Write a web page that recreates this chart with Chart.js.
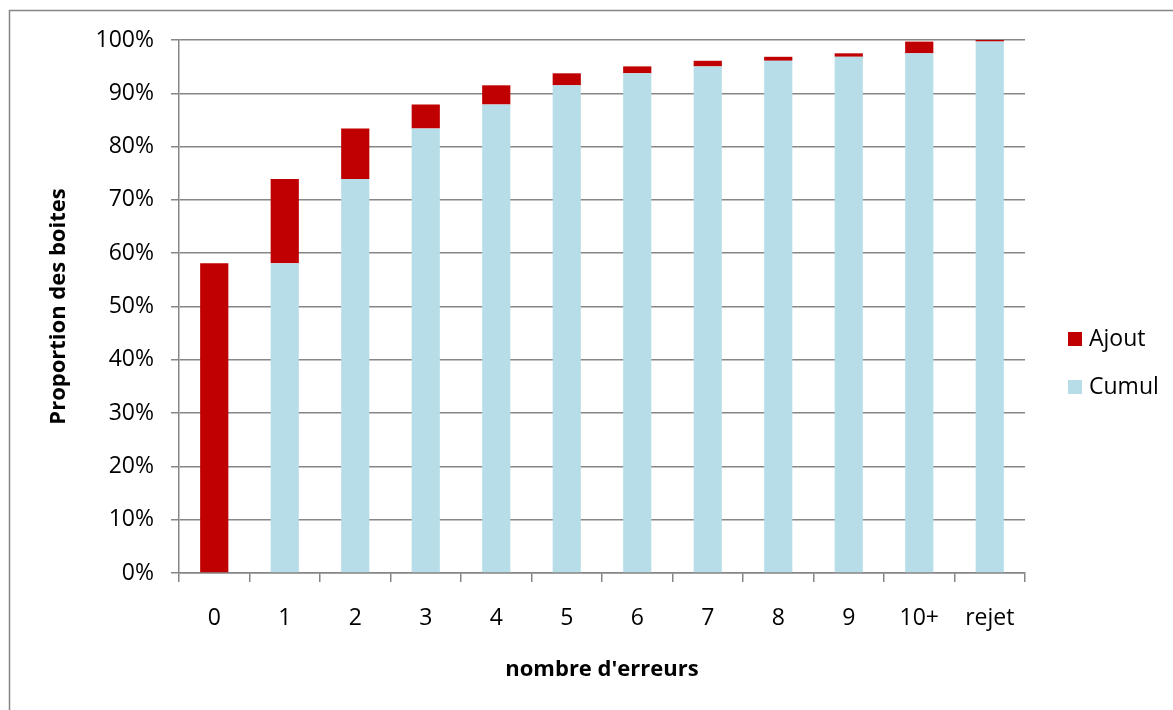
<!DOCTYPE html>
<html>
<head>
<meta charset="utf-8">
<script src="https://cdn.jsdelivr.net/npm/chart.js@4/dist/chart.umd.min.js"></script>
<style>
  html, body { margin: 0; padding: 0; background: #fff; }
  #wrap { position: relative; width: 1173px; height: 710px; overflow: hidden; }
  canvas { display: block; }
</style>
</head>
<body>
<div id="wrap"><canvas id="c" width="1173" height="710"></canvas></div>
<script>
// Number of errors per box (categories on the x axis)
const categories = ['0', '1', '2', '3', '4', '5', '6', '7', '8', '9', '10+', 'rejet'];
// Share of boxes added at each step (%)
const ajout = [58.1, 15.8, 9.5, 4.5, 3.6, 2.25, 1.3, 1.05, 0.75, 0.65, 2.2, 0.3];
// Share of boxes already accumulated before each step (%)
const cumul = [0, 58.1, 73.9, 83.4, 87.9, 91.5, 93.75, 95.05, 96.1, 96.85, 97.5, 99.7];

const FONT = '"Open Sans", "Noto Sans", sans-serif';
const AXIS_GRAY = '#868686';

// Outer chart frame (top and left edges)
const framePlugin = {
  id: 'frame',
  beforeDraw(chart) {
    const ctx = chart.ctx;
    ctx.save();
    ctx.strokeStyle = AXIS_GRAY;
    ctx.lineWidth = 1.5;
    ctx.beginPath();
    ctx.moveTo(9.5, 720);
    ctx.lineTo(9.5, 10.5);
    ctx.lineTo(1180, 10.5);
    ctx.stroke();
    ctx.restore();
  }
};

// Legend on the right, listing the stacked series from top to bottom
const sideLegend = {
  id: 'sideLegend',
  afterDraw(chart) {
    const ctx = chart.ctx;
    const items = chart.data.datasets.slice().reverse();
    ctx.save();
    ctx.font = '23px ' + FONT;
    ctx.textBaseline = 'middle';
    ctx.textAlign = 'left';
    items.forEach((ds, i) => {
      const cy = 339 + i * 48;
      ctx.fillStyle = ds.backgroundColor;
      ctx.fillRect(1068, cy - 7, 14, 14);
      ctx.fillStyle = '#000';
      ctx.fillText(ds.label, 1089, cy);
    });
    ctx.restore();
  }
};

new Chart(document.getElementById('c'), {
  type: 'bar',
  data: {
    labels: categories,
    datasets: [
      {
        label: 'Cumul',
        data: cumul,
        backgroundColor: '#B7DEE8',
        borderWidth: 0,
        barPercentage: 1,
        categoryPercentage: 0.4
      },
      {
        label: 'Ajout',
        data: ajout,
        backgroundColor: '#C00000',
        borderWidth: 0,
        barPercentage: 1,
        categoryPercentage: 0.4
      }
    ]
  },
  options: {
    responsive: false,
    animation: false,
    layout: { padding: { top: 40, right: 148, bottom: 0, left: 0 } },
    plugins: {
      legend: { display: false },
      tooltip: { enabled: false }
    },
    scales: {
      x: {
        stacked: true,
        grid: {
          display: true,
          offset: true,
          drawOnChartArea: false,
          drawTicks: true,
          tickLength: 9,
          color: AXIS_GRAY,
          lineWidth: 1.5
        },
        border: { display: true, color: AXIS_GRAY, width: 1.5 },
        ticks: {
          color: '#000',
          font: { family: FONT, size: 23 },
          padding: 23,
          maxRotation: 0,
          autoSkip: false
        },
        title: {
          display: true,
          text: "nombre d'erreurs",
          color: '#000',
          font: { family: FONT, size: 22, weight: 'bold' },
          padding: { top: 0, bottom: 27 }
        },
        afterFit(scale) { scale.height = 137; }
      },
      y: {
        stacked: true,
        min: 0,
        max: 100,
        grid: {
          color: AXIS_GRAY,
          lineWidth: 1.5,
          drawTicks: true,
          tickLength: 8
        },
        border: { display: true, color: AXIS_GRAY, width: 1.5 },
        ticks: {
          stepSize: 10,
          color: '#000',
          font: { family: FONT, size: 23 },
          padding: 17,
          callback: v => v + '%'
        },
        title: {
          display: true,
          text: 'Proportion des boites',
          color: '#000',
          font: { family: FONT, size: 22, weight: 'bold' },
          padding: { top: 46, bottom: 0 }
        },
        afterFit(scale) { scale.width = 179; }
      }
    }
  },
  plugins: [framePlugin, sideLegend]
});
</script>
</body>
</html>
